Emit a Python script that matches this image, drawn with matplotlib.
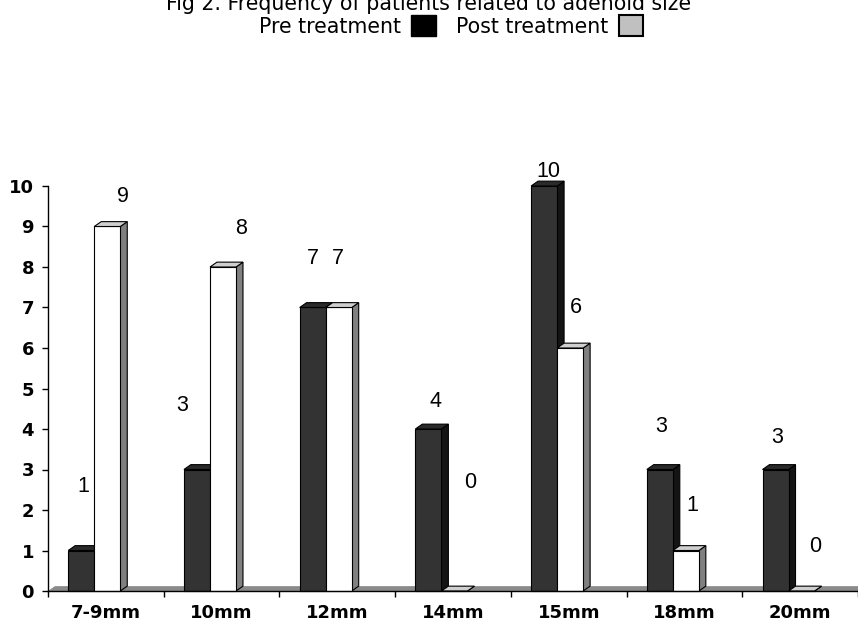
import numpy as np
import matplotlib.pyplot as plt
from matplotlib.patches import Polygon, Rectangle

# adenoid size categories and patient counts
sizes = ['7-9mm', '10mm', '12mm', '14mm', '15mm', '18mm', '20mm']
pre = [1, 3, 7, 4, 10, 3, 3]
post = [9, 8, 7, 0, 6, 1, 0]

# label placement tweaks (data units above bar top, pixels sideways)
lift_pre = [1.57, 1.59, 1.2, 0.67, 0.35, 1.05, 0.8]
lift_post = [0.75, 0.96, 1.2, 2.69, 1.0, 1.12, 1.09]
shift_pre = [2, -15, 0, 7, 4, 1, 2]
shift_post = [16, 18, -1, 16, 6, 6, 14]

W, H = 858, 628
fig = plt.figure(figsize=(W / 100, H / 100), dpi=100)
ax = fig.add_axes([48 / W, 37 / H, 810 / W, 405 / H])

x = np.arange(len(sizes))
off, bw = 0.175, 0.225
dx, dy = 0.06, 0.12   # depth of the fake 3d


def box3d(ax, xs, vals, front, side, top):
    bars = ax.bar(xs, vals, width=bw, align='edge', color=front,
                  edgecolor='black', linewidth=0.8, zorder=3, clip_on=False)
    for b in bars:
        x0, w, h = b.get_x(), b.get_width(), b.get_height()
        ax.add_patch(Polygon([(x0 + w, 0), (x0 + w + dx, dy), (x0 + w + dx, h + dy), (x0 + w, h)],
                             closed=True, fc=side, ec='black', lw=0.8, zorder=2, clip_on=False))
        ax.add_patch(Polygon([(x0, h), (x0 + dx, h + dy), (x0 + w + dx, h + dy), (x0 + w, h)],
                             closed=True, fc=top, ec='black', lw=0.8, zorder=3, clip_on=False))
    return bars


# floor
ax.add_patch(Polygon([(0, 0), (dx, dy), (7, dy), (7, 0)], closed=True,
                     fc='#8a8a8a', ec='none', zorder=1, clip_on=False))

box3d(ax, x + off, pre, '#333333', '#141414', '#2a2a2a')
box3d(ax, x + off + bw, post, 'white', '#808080', '#cfcfcf')

for i in range(len(sizes)):
    ax.annotate(str(pre[i]), (x[i] + off + bw / 2, pre[i] + lift_pre[i]),
                xytext=(shift_pre[i] * 0.72, 0), textcoords='offset points',
                ha='center', va='center', fontsize=15.5, family='Liberation Sans',
                zorder=5, annotation_clip=False)
    ax.annotate(str(post[i]), (x[i] + off + 1.5 * bw, post[i] + lift_post[i]),
                xytext=(shift_post[i] * 0.72, 0), textcoords='offset points',
                ha='center', va='center', fontsize=15.5, family='Liberation Sans',
                zorder=5, annotation_clip=False)

ax.set_xlim(0, 7)
ax.set_ylim(0, 10)
ax.set_yticks(range(11))
ax.set_yticklabels([str(v) for v in range(11)], fontsize=13, fontweight='bold')
ax.set_xticks(x + 0.5)
ax.set_xticklabels(sizes, fontsize=13, fontweight='bold')
ax.set_xticks(np.arange(0, 8), minor=True)
ax.tick_params(axis='x', which='major', length=0, pad=9)
ax.tick_params(axis='x', which='minor', length=4, width=1, direction='out')
ax.tick_params(axis='y', length=4, width=1, pad=6)
for s in ['top', 'right']:
    ax.spines[s].set_visible(False)
ax.spines['left'].set_bounds(0, 10)
ax.spines['left'].set_linewidth(1)
ax.spines['bottom'].set_linewidth(1)
ax.spines['bottom'].set_zorder(4)

# heading, top line partly cut off by the page edge as in the scan
fig.text(0.5, 1 - 4 / H, 'Fig 2. Frequency of patients related to adenoid size',
         ha='center', va='center', fontsize=14.8, family='DejaVu Sans')
h1 = Rectangle((0, 0), 1, 1, fc='black', ec='black')
h2 = Rectangle((0, 0), 1, 1, fc='#c0c0c0', ec='black', lw=1.5)
fig.legend([h1, h2], ['Pre treatment', 'Post treatment'], ncol=2, markerfirst=False,
           frameon=False, loc='center', bbox_to_anchor=(451 / W, 1 - 26 / H),
           fontsize=14.8, handlelength=1.2, handleheight=1.2, handletextpad=0.5,
           columnspacing=1.0, borderpad=0)

fig.savefig('out.png', dpi=100)
